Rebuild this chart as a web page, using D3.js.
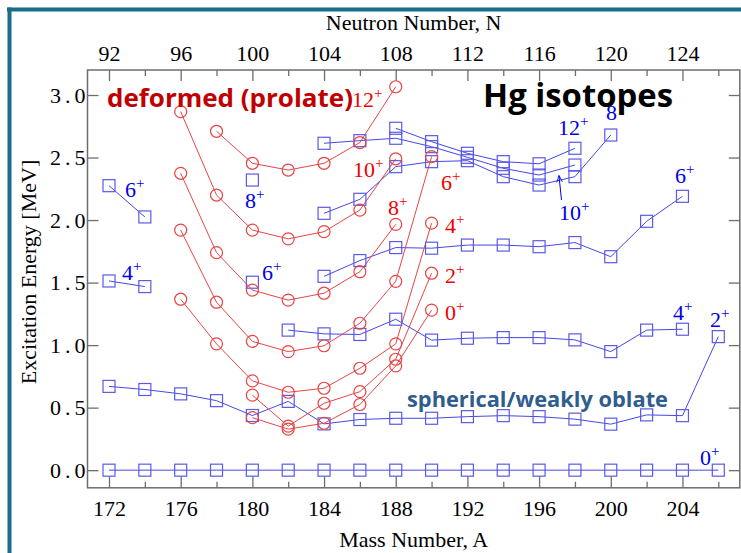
<!DOCTYPE html>
<html lang="en">
<head>
<meta charset="UTF-8">
<title>Hg isotopes</title>
<script src="https://d3js.org/d3.v7.min.js"></script>
<style>
  body { margin: 0; background: #fff; }
  svg text { font-family: "Liberation Serif", "Times New Roman", serif; }
  .axis line { stroke: #6e6e6e; stroke-width: 1.3px; }
  .axis path { display: none; }
  .axis text { font-size: 22px; fill: #000; }
</style>
</head>
<body>
<svg width="741" height="553"></svg>
<script>
    // tick values
    const massTicks = [172, 176, 180, 184, 188, 192, 196, 200, 204];
    const massMinor = [174, 178, 182, 186, 190, 194, 198, 202, 206];
    const energyTicks = [0, 0.5, 1.0, 1.5, 2.0, 2.5, 3.0];

    // spherical / weakly oblate states [A, E in MeV]
    const blue0 = [[172, 0], [174, 0], [176, 0], [178, 0], [180, 0], [182, 0], [184, 0], [186, 0], [188, 0],
                   [190, 0], [192, 0], [194, 0], [196, 0], [198, 0], [200, 0], [202, 0], [204, 0], [206, 0]];
    const blue2 = [[172, 0.67], [174, 0.645], [176, 0.61], [178, 0.556], [180, 0.437], [182, 0.55], [184, 0.37],
                   [186, 0.405], [188, 0.415], [190, 0.415], [192, 0.428], [194, 0.436], [196, 0.428],
                   [198, 0.408], [200, 0.368], [202, 0.442], [204, 0.436], [206, 1.068]];
    const blue4a = [[172, 1.513], [174, 1.468]];
    const blue4b = [[182, 1.12], [184, 1.09], [186, 1.085], [188, 1.207], [190, 1.04], [192, 1.055], [194, 1.06],
                    [196, 1.06], [198, 1.042], [200, 0.948], [202, 1.12], [204, 1.127]];
    const blue6a = [[172, 2.275], [174, 2.025]];
    const blue6b = [[184, 1.55], [186, 1.676], [188, 1.78], [190, 1.775], [192, 1.80], [194, 1.80], [196, 1.787],
                    [198, 1.82], [200, 1.707], [202, 1.99], [204, 2.19]];
    const blue8 = [[184, 2.054], [186, 2.166], [188, 2.427], [190, 2.467], [192, 2.475], [194, 2.347],
                   [196, 2.28], [198, 2.347], [200, 2.68]];
    const blue10 = [[184, 2.614], [186, 2.635], [188, 2.654], [190, 2.587], [192, 2.502], [194, 2.414],
                    [196, 2.36], [198, 2.44]];
    const blue12 = [[188, 2.734], [190, 2.627], [192, 2.534], [194, 2.467], [196, 2.45], [198, 2.574]];
    const blueSingle = [[180, 1.503], [180, 2.32]];

    // deformed (prolate) band [A, E in MeV]
    const red0 = [[180, 0.42], [182, 0.328], [184, 0.375], [186, 0.525], [188, 0.834], [190, 1.28]];
    const red2 = [[180, 0.60], [182, 0.352], [184, 0.535], [186, 0.628], [188, 0.887], [190, 1.575]];
    const red4 = [[176, 1.367], [178, 1.01], [180, 0.714], [182, 0.623], [184, 0.655], [186, 0.815], [188, 1.01], [190, 1.975]];
    const red6 = [[176, 1.92], [178, 1.343], [180, 1.03], [182, 0.948], [184, 0.995], [186, 1.175], [188, 1.51], [190, 2.507]];
    const red8 = [[176, 2.374], [178, 1.74], [180, 1.44], [182, 1.36], [184, 1.415], [186, 1.587], [188, 1.966]];
    const red10 = [[176, 2.867], [178, 2.20], [180, 1.92], [182, 1.85], [184, 1.907], [186, 2.08], [188, 2.49]];
    const red12 = [[178, 2.71], [180, 2.454], [182, 2.40], [184, 2.454], [186, 2.62], [188, 3.066]];

    const blueSeries = [blue0, blue2, blue4a, blue4b, blue6a, blue6b, blue8, blue10, blue12];
    const redSeries = [red0, red2, red4, red6, red8, red10, red12];

    const svg = d3.select("svg");
    const plotLeft = 87.5, plotRight = 739.8, plotTop = 70, plotBottom = 487.8;

    const x = d3.scaleLinear().domain([170.8, 207.2]).range([plotLeft, plotRight]);
    const y = d3.scaleLinear().domain([-0.141, 3.2]).range([plotBottom, plotTop]);

    // slide frame
    svg.append("line").attr("x1", 7).attr("x2", 741).attr("y1", 9.5).attr("y2", 9.5)
        .attr("stroke", "#1b6d8a").attr("stroke-width", 4);
    svg.append("line").attr("x1", 9.5).attr("x2", 9.5).attr("y1", 7.5).attr("y2", 553)
        .attr("stroke", "#1b6d8a").attr("stroke-width", 4);

    // plot box
    svg.append("rect")
        .attr("x", plotLeft).attr("y", plotTop)
        .attr("width", plotRight - plotLeft).attr("height", plotBottom - plotTop)
        .attr("fill", "none").attr("stroke", "#6e6e6e").attr("stroke-width", 1.5);

    // axes, ticks pointing inward
    svg.append("g").attr("class", "axis").attr("transform", `translate(0,${plotBottom})`)
        .call(d3.axisBottom(x).tickValues(massTicks).tickSize(-11).tickPadding(13).tickFormat(d3.format("d")));
    svg.append("g").attr("class", "axis").attr("transform", `translate(0,${plotBottom})`)
        .call(d3.axisBottom(x).tickValues(massMinor).tickSize(-6).tickFormat(""));
    svg.append("g").attr("class", "axis").attr("transform", `translate(0,${plotTop})`)
        .call(d3.axisTop(x).tickValues(massTicks).tickSize(-11).tickPadding(9).tickFormat(d => d - 80));
    svg.append("g").attr("class", "axis").attr("transform", `translate(0,${plotTop})`)
        .call(d3.axisTop(x).tickValues(massMinor).tickSize(-6).tickFormat(""));
    svg.append("g").attr("class", "axis ylab").attr("transform", `translate(${plotLeft},0)`)
        .call(d3.axisLeft(y).tickValues(energyTicks).tickSize(-11).tickPadding(-2).tickFormat(d3.format(".1f")));
    svg.append("g").attr("class", "axis").attr("transform", `translate(${plotRight},0)`)
        .call(d3.axisRight(y).tickValues(energyTicks).tickSize(-11).tickFormat(""));
    svg.selectAll(".ylab text").style("letter-spacing", "4px");

    // axis titles
    svg.append("text").attr("x", (plotLeft + plotRight) / 2).attr("y", 30).attr("text-anchor", "middle")
        .style("font-size", "22px").text("Neutron Number, N");
    svg.append("text").attr("x", (plotLeft + plotRight) / 2).attr("y", 547).attr("text-anchor", "middle")
        .style("font-size", "22px").text("Mass Number, A");
    svg.append("text").attr("transform", "translate(36,272) rotate(-90)").attr("text-anchor", "middle")
        .style("font-size", "22px").text("Excitation Energy [MeV]");

    const line = d3.line().x(d => x(d[0])).y(d => y(d[1]));
    const blueLine = "#4646e6", redLine = "#e84545";

    svg.append("g").selectAll("path").data(blueSeries).enter().append("path")
        .attr("d", line).attr("fill", "none").attr("stroke", blueLine).attr("stroke-width", 1);
    svg.append("g").selectAll("path").data(redSeries).enter().append("path")
        .attr("d", line).attr("fill", "none").attr("stroke", redLine).attr("stroke-width", 1);

    svg.append("g").selectAll("rect").data(blueSeries.flat().concat(blueSingle)).enter().append("rect")
        .attr("x", d => x(d[0]) - 6).attr("y", d => y(d[1]) - 6)
        .attr("width", 12).attr("height", 12)
        .attr("fill", "none").attr("stroke", "#5a5ae6").attr("stroke-width", 1.2);
    svg.append("g").selectAll("circle").data(redSeries.flat()).enter().append("circle")
        .attr("cx", d => x(d[0])).attr("cy", d => y(d[1])).attr("r", 6)
        .attr("fill", "none").attr("stroke", redLine).attr("stroke-width", 1.2);

    // spin labels
    function spin(px, py, num, sup, color) {
        const t = svg.append("text").attr("x", px).attr("y", py)
            .attr("fill", color).style("font-size", "22px").text(num);
        if (sup) t.append("tspan").attr("dy", -9).style("font-size", "15px").text(sup);
    }
    const red = "#f00000", blue = "#0000e6";
    spin(352, 107, "12", "+", red);
    spin(353, 177, "10", "+", red);
    spin(388, 215, "8", "+", red);
    spin(441, 190, "6", "+", red);
    spin(445, 233, "4", "+", red);
    spin(445, 283, "2", "+", red);
    spin(445, 320, "0", "+", red);

    spin(125, 197, "6", "+", blue);
    spin(122, 280, "4", "+", blue);
    spin(245, 208, "8", "+", blue);
    spin(262, 280, "6", "+", blue);
    spin(558, 135, "12", "+", blue);
    spin(606, 120, "8", "", blue);
    spin(559, 220, "10", "+", blue);
    spin(675, 183, "6", "+", blue);
    spin(673, 320, "4", "+", blue);
    spin(710, 327, "2", "+", blue);
    spin(700, 465, "0", "+", blue);

    // arrow from 10+ label
    svg.append("defs").append("marker").attr("id", "arr")
        .attr("viewBox", "0 0 10 10").attr("refX", 9).attr("refY", 5)
        .attr("markerWidth", 7).attr("markerHeight", 7).attr("orient", "auto")
        .append("path").attr("d", "M0,1 L10,5 L0,9").attr("fill", "none").attr("stroke", blue).attr("stroke-width", 1.2);
    svg.append("line").attr("x1", 561.5).attr("y1", 200).attr("x2", 559).attr("y2", 176)
        .attr("stroke", blue).attr("stroke-width", 1).attr("marker-end", "url(#arr)");

    // headline texts
    svg.append("text").attr("x", 107).attr("y", 107)
        .attr("textLength", 246).attr("lengthAdjust", "spacingAndGlyphs")
        .style("font-family", "'Open Sans', sans-serif").style("font-weight", "bold").style("font-size", "25px")
        .attr("fill", "#c00000").text("deformed (prolate)");
    svg.append("text").attr("x", 483).attr("y", 107)
        .attr("textLength", 190).attr("lengthAdjust", "spacingAndGlyphs")
        .style("font-family", "'Open Sans', sans-serif").style("font-weight", "bold").style("font-size", "33px")
        .attr("fill", "#000").text("Hg isotopes");
    svg.append("text").attr("x", 407).attr("y", 407)
        .attr("textLength", 261).attr("lengthAdjust", "spacingAndGlyphs")
        .style("font-family", "'Open Sans', sans-serif").style("font-weight", "bold").style("font-size", "21px")
        .attr("fill", "#2f5d8c").text("spherical/weakly oblate");
</script>
</body>
</html>
